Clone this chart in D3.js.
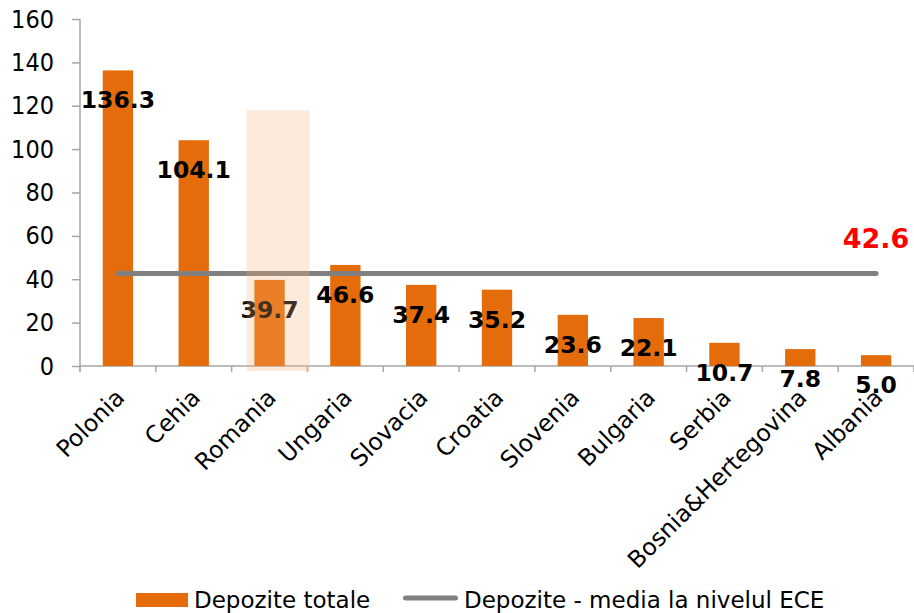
<!DOCTYPE html>
<html>
<head>
<meta charset="utf-8">
<script src="https://cdn.jsdelivr.net/npm/d3@7"></script>
<style>
  html, body { margin: 0; padding: 0; background: #fff; }
  svg { display: block; }
  text { font-family: "DejaVu Sans", Verdana, sans-serif; }
</style>
</head>
<body>
<svg id="chart" width="914" height="613"></svg>
<script>
// Total deposits by country (bn EUR) and the CEE average
const categories = ["Polonia", "Cehia", "Romania", "Ungaria", "Slovacia", "Croatia",
  "Slovenia", "Bulgaria", "Serbia", "Bosnia&Hertegovina", "Albania"];
const deposits = [136.3, 104.1, 39.7, 46.6, 37.4, 35.2, 23.6, 22.1, 10.7, 7.8, 5.0];
const averageValue = 42.6;
const yTicks = [0, 20, 40, 60, 80, 100, 120, 140, 160];
const highlightCategory = "Romania";
const highlightTop = 118;
const legendLabels = ["Depozite totale", "Depozite - media la nivelul ECE"];

const ORANGE = "#e46c0a";
const GREY = "#808080";
const AXIS = "#a6a6a6";

const svg = d3.select("#chart");
const plot = { left: 80, right: 914, top: 19, bottom: 366 };

const x = d3.scaleBand().domain(categories).range([plot.left, plot.right]);
const y = d3.scaleLinear().domain([0, 160]).range([plot.bottom, plot.top]);
const barW = x.bandwidth() * 0.4;
const cx = c => x(c) + x.bandwidth() / 2;

// Y axis
const yAxis = svg.append("g")
  .attr("transform", `translate(${plot.left},0)`)
  .call(d3.axisLeft(y).tickValues(yTicks).tickSize(8).tickSizeOuter(0).tickPadding(18));
yAxis.select(".domain").remove();
yAxis.selectAll(".tick line").attr("stroke", AXIS).attr("stroke-width", 1.5);
yAxis.selectAll(".tick text")
  .attr("fill", "#000").style("font-size", "25px")
  .style("font-family", "'DejaVu Sans Condensed', 'DejaVu Sans', sans-serif");
svg.append("line")
  .attr("x1", plot.left).attr("x2", plot.left)
  .attr("y1", plot.top).attr("y2", plot.bottom + 5)
  .attr("stroke", AXIS).attr("stroke-width", 1.5);

// X axis line with ticks on the category boundaries
svg.append("line")
  .attr("x1", plot.left).attr("x2", plot.right)
  .attr("y1", plot.bottom).attr("y2", plot.bottom)
  .attr("stroke", AXIS).attr("stroke-width", 1.5);
svg.append("g").selectAll("line")
  .data(categories.map(c => x(c)).concat([plot.right]))
  .join("line")
  .attr("x1", d => d).attr("x2", d => d)
  .attr("y1", plot.bottom).attr("y2", plot.bottom + 6)
  .attr("stroke", AXIS).attr("stroke-width", 1.5);

// Category labels, rotated
svg.append("g").selectAll("text")
  .data(categories)
  .join("text")
  .attr("transform", c => `translate(${cx(c) + 8},${plot.bottom + 33}) rotate(-45)`)
  .attr("text-anchor", "end")
  .style("font-size", "23.5px")
  .attr("fill", "#000")
  .text(c => c);

// Bars
svg.append("g").selectAll("rect")
  .data(categories.map((c, i) => ({ c, v: deposits[i] })))
  .join("rect")
  .attr("x", d => cx(d.c) - barW / 2)
  .attr("width", barW)
  .attr("y", d => y(d.v))
  .attr("height", d => y(0) - y(d.v))
  .attr("fill", ORANGE);

// Average line
svg.append("line")
  .attr("x1", cx(categories[0])).attr("x2", cx(categories[categories.length - 1]))
  .attr("y1", y(averageValue)).attr("y2", y(averageValue))
  .attr("stroke", GREY).attr("stroke-width", 5).attr("stroke-linecap", "round");

// Value labels
svg.append("g").selectAll("text")
  .data(categories.map((c, i) => ({ c, v: deposits[i] })))
  .join("text")
  .attr("x", d => cx(d.c))
  .attr("y", d => y(d.v) + 38)
  .attr("text-anchor", "middle")
  .style("font-size", "23.5px").style("font-weight", "bold")
  .attr("fill", "#000")
  .text(d => d.v.toFixed(1));

// Highlight band over Romania
svg.append("rect")
  .attr("x", x(highlightCategory) + 15)
  .attr("width", 63)
  .attr("y", y(highlightTop))
  .attr("height", plot.bottom + 5 - y(highlightTop))
  .attr("fill", "#f8b276").attr("fill-opacity", 0.27);

// Average value label
svg.append("text")
  .attr("x", cx(categories[categories.length - 1]))
  .attr("y", y(averageValue) - 26)
  .attr("text-anchor", "middle")
  .style("font-size", "27px").style("font-weight", "bold")
  .attr("fill", "#ff0000")
  .text(averageValue.toFixed(1));

// Legend
const legend = svg.append("g");
legend.append("rect").attr("x", 136).attr("y", 593).attr("width", 52).attr("height", 14).attr("fill", ORANGE);
legend.append("text").attr("x", 194).attr("y", 608).style("font-size", "23px").attr("fill", "#000").text(legendLabels[0]);
legend.append("line").attr("x1", 405.5).attr("x2", 455.5).attr("y1", 598).attr("y2", 598)
  .attr("stroke", GREY).attr("stroke-width", 5).attr("stroke-linecap", "round");
legend.append("text").attr("x", 464).attr("y", 608).style("font-size", "23px").attr("fill", "#000").text(legendLabels[1]);
</script>
</body>
</html>
